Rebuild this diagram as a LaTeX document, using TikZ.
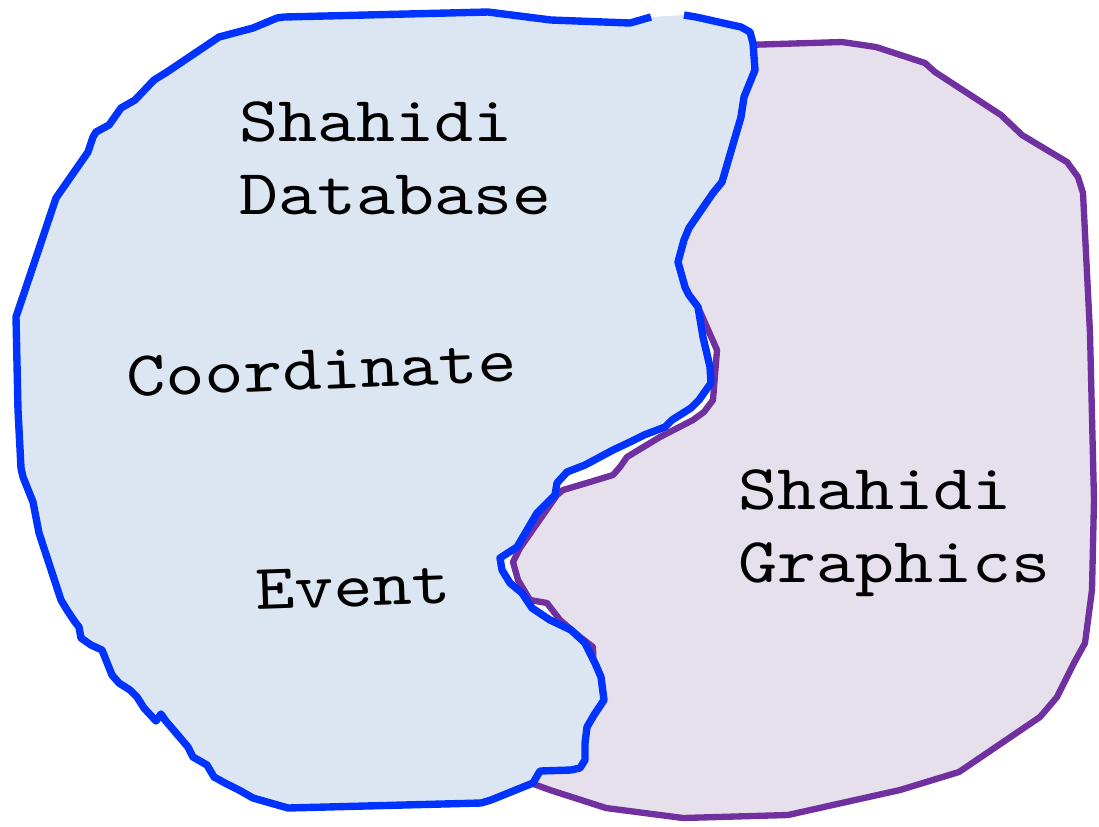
\documentclass[tikz,border=0pt]{standalone}
\usepackage{fontspec}
\setmonofont{lmmono10-regular}[Extension=.otf, FakeStretch=1.16]
\usepackage{tikz}

\definecolor{dbline}{RGB}{0,51,255}
\definecolor{dbfill}{RGB}{220,230,242}
\definecolor{gfxline}{RGB}{112,48,160}
\definecolor{gfxfill}{RGB}{230,224,236}

% contour de la zone Database (ouvert en haut)
\newcommand{\dbcontour}{(684,15) -- (696,17) -- (741,27) -- (750,32) -- (753,43) -- (755,70) -- (744,97) -- (741,117) -- (722,182) -- (713,193) -- (689,228) -- (684,240) -- (678,262) -- (685,287) -- (689,295) -- (698,307) -- (703,337) -- (710,367) -- (711,383) -- (699,400) -- (691,408) -- (672,420) -- (665,427) -- (644,435) -- (630,442) -- (613,450) -- (585,465) -- (567,472) -- (557,483) -- (555,495) -- (537,513) -- (527,530) -- (517,547) -- (500,558) -- (502,570) -- (510,583) -- (522,593) -- (532,608) -- (550,620) -- (571,630) -- (585,643) -- (595,663) -- (601,677) -- (604,700) -- (594,715) -- (587,727) -- (585,743) -- (585,760) -- (580,768) -- (571,770) -- (540,771) -- (533,783) -- (491,800) -- (481,803) -- (288,808) -- (253,798) -- (239,790) -- (225,783) -- (214,777) -- (207,765) -- (193,757) -- (188,747) -- (165,720) -- (161,714) -- (156,721) -- (144,708) -- (137,697) -- (130,690) -- (119,683) -- (112,675) -- (102,650) -- (91,645) -- (81,638) -- (79,627) -- (75,622) -- (67,610) -- (61,600) -- (39,533) -- (33,502) -- (23,477) -- (21,468) -- (18,410) -- (16,317) -- (56,198) -- (88,152) -- (93,137) -- (96,132) -- (109,125) -- (121,108) -- (135,100) -- (154,80) -- (167,72) -- (219,37) -- (253,28) -- (277,18) -- (284,17) -- (488,12) -- (551,20) -- (630,23) -- (651,17)}

\begin{document}
\begin{tikzpicture}[x=0.01cm, y=-0.01cm, line join=round,
    label/.style={inner sep=0pt, anchor=base west, align=left,
      font=\ttfamily\fontsize{18.2pt}{20.6pt}\selectfont}]
\useasboundingbox (0,0) rectangle (1099,826);
% zone Graphics
\draw[gfxline, fill=gfxfill, line width=1.8pt] (745,45) -- (842,42) -- (876,47) -- (925,63) -- (935,72) -- (1001,115) -- (1022,135) -- (1067,162) -- (1078,177) -- (1083,193) -- (1090,333) -- (1094,500) -- (1092,590) -- (1085,643) -- (1074,663) -- (1067,677) -- (1057,697) -- (1040,717) -- (959,772) -- (900,790) -- (788,815) -- (683,818) -- (606,808) -- (550,790) -- (528,782) -- (540,765) -- (578,755) -- (582,730) -- (594,690) -- (593,647) -- (580,637) -- (560,620) -- (547,603) -- (530,600) -- (518,580) -- (513,562) -- (520,548) -- (557,495) -- (563,490) -- (590,482) -- (613,475) -- (620,467) -- (627,457) -- (660,437) -- (693,420) -- (704,412) -- (713,400) -- (717,350) -- (698,307) -- (680,290) -- (672,262) -- (678,240) -- (708,190) -- (735,117) -- (748,70) -- cycle;
% zone Database
\fill[dbfill] \dbcontour -- cycle;
\draw[dbline, line width=2.1pt] \dbcontour;
% textes
\node[label] (database) at (239,214) {Shahidi\\Database};
\node[label, rotate=2.3] (coordinate) at (127,397) {Coordinate};
\node[label, rotate=2] (event) at (256,610) {Event};
\node[label] (graphics) at (738,582) {Shahidi\\Graphics};
\end{tikzpicture}
\end{document}
